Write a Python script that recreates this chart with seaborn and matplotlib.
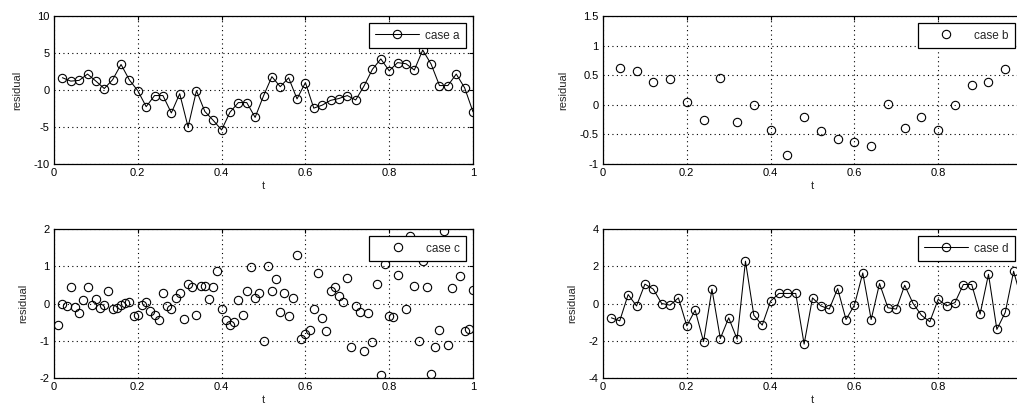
import numpy as np
import matplotlib
matplotlib.use('Agg')
import matplotlib.pyplot as plt
from matplotlib.ticker import FormatStrFormatter
import seaborn as sns

# sample times of each case
t_a = np.linspace(0.02, 1.0, 50)
t_b = np.linspace(0.04, 0.96, 24)
t_c = np.linspace(0.01, 1.0, 100)
t_d = np.linspace(0.02, 1.0, 50)

# residuals
res_a = [1.66, 1.2, 1.3, 2.15, 1.2, 0.2, 1.4, 3.45, 1.35, -0.1,
         -2.25, -0.75, -0.75, -3.1, -0.5, -5.0, -0.1, -2.9, -4.1, -5.4,
         -3.0, -1.7, -1.7, -3.7, -0.8, 1.8, 0.45, 1.65, -1.2, 1.0,
         -2.45, -2.05, -1.4, -1.15, -0.75, -1.35, 0.55, 2.8, 4.2, 2.6,
         3.7, 3.55, 2.7, 5.4, 3.5, 0.6, 0.6, 2.15, 0.3, -2.95]

res_b = [0.62, 0.57, 0.38, 0.44, 0.045, -0.25, 0.46, -0.29, -0.005, -0.42,
         -0.84, -0.2, -0.44, -0.58, -0.62, -0.69, 0.02, -0.4, -0.2, -0.42,
         0.0, 0.33, 0.38, 0.6]

res_c = [-0.58, -0.02, -0.08, 0.45, -0.09, -0.26, 0.09, 0.45, -0.04, 0.13,
         -0.12, -0.05, 0.34, -0.15, -0.13, -0.04, 0.01, 0.05, -0.33, -0.3,
         -0.05, 0.05, -0.2, -0.31, -0.45, 0.28, -0.08, -0.15, 0.16, 0.27,
         -0.42, 0.52, 0.45, -0.3, 0.47, 0.47, 0.13, 0.45, 0.87, -0.15,
         -0.44, -0.58, -0.51, 0.09, -0.3, 0.34, 0.98, 0.16, 0.27, -1.0,
         1.0, 0.34, 0.65, -0.22, 0.27, -0.33, 0.16, 1.31, -0.96, -0.81,
         -0.7, -0.15, 0.82, -0.4, -0.73, 0.34, 0.45, 0.2, 0.04, 0.69,
         -1.17, -0.08, -0.22, -1.28, -0.26, -1.04, 0.52, -1.92, 1.06, -0.33,
         -0.37, 0.77, 1.4, -0.15, 1.8, 0.47, -1.0, 1.13, 0.45, -1.9,
         -1.17, -0.71, 1.95, -1.12, 0.41, 1.5, 0.75, -0.75, -0.68, 0.37]

res_d = [-0.77, -0.93, 0.48, -0.13, 1.04, 0.77, 0.0, -0.09, 0.3, -1.2,
         -0.36, -2.05, 0.77, -1.88, -0.77, -1.91, 2.27, -0.63, -1.16, 0.13,
         0.54, 0.54, 0.54, -2.18, 0.3, -0.13, -0.3, 0.8, -0.86, -0.09,
         1.64, -0.86, 1.07, -0.23, -0.3, 0.98, 0.0, -0.63, -0.98, 0.23,
         -0.13, 0.05, 1.02, 1.02, -0.57, 1.57, -1.39, -0.48, 1.73, 0.1]

labels = ['case a', 'case b', 'case c', 'case d']
ylims = [(-10, 10), (-1, 1.5), (-2, 2), (-4, 4)]
ysteps = [5, 0.5, 1, 2]
joined = [True, False, False, True]

sns.set_style('white')
plt.rcParams['font.family'] = ['Liberation Sans', 'DejaVu Sans']

W, H = 1017, 416
fig = plt.figure(figsize=(W / 100, H / 100), dpi=100)

# axes boxes in pixels: left, top, right, bottom (right column runs off the picture)
boxes = [(54, 16, 473, 164), (603, 16, 1022, 164),
         (54, 229, 473, 378), (603, 229, 1022, 378)]

data = [(t_a, res_a), (t_b, res_b), (t_c, res_c), (t_d, res_d)]

for i in range(4):
    l, tp, r, b = boxes[i]
    ax = fig.add_axes([l / W, (H - b) / H, (r - l) / W, (b - tp) / H])
    t, res = data[i]
    ls = '-' if joined[i] else 'none'
    sns.lineplot(x=t, y=res, ax=ax, color='k', linewidth=0.75, linestyle=ls,
                 marker='o', markersize=6, markerfacecolor='none',
                 markeredgecolor='k', markeredgewidth=0.8,
                 errorbar=None, label=labels[i])

    ax.set_xlim(0, 1)
    ax.set_ylim(*ylims[i])
    # right column is cut at the picture edge, so its "1" tick is not shown
    xmax = 1.01 if i % 2 == 0 else 0.81
    ax.set_xticks(np.arange(0, xmax, 0.2))
    ax.set_yticks(np.arange(ylims[i][0], ylims[i][1] + 1e-9, ysteps[i]))
    ax.xaxis.set_major_formatter(FormatStrFormatter('%g'))
    ax.yaxis.set_major_formatter(FormatStrFormatter('%g'))
    ax.tick_params(direction='in', top=True, right=True, length=3, width=0.8,
                   labelsize=8, pad=3, colors='k')
    ax.grid(True, color='k', linestyle=(0, (1, 3)), linewidth=0.8)
    for s in ax.spines.values():
        s.set_color('k')
        s.set_linewidth(0.9)
    ax.set_xlabel('t', fontsize=8, labelpad=2)
    ax.set_ylabel('residual', fontsize=8, labelpad=8)

    leg = ax.legend(loc='upper right', fontsize=8.5, frameon=True, fancybox=False,
                    edgecolor='k', framealpha=1, handlelength=3.7,
                    handletextpad=0.5, borderpad=0.55, borderaxespad=0.6)
    leg.get_frame().set_linewidth(0.9)

fig.savefig('out.png', dpi=100)
